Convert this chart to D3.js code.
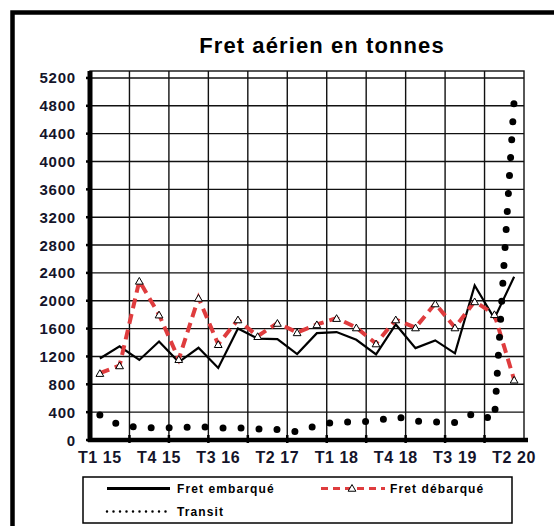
<!DOCTYPE html>
<html lang="fr">
<head>
    <meta charset="UTF-8">
    <title>Fret aérien en tonnes</title>
    <script src="https://cdnjs.cloudflare.com/ajax/libs/d3/7.8.5/d3.min.js"></script>
    <style>
        body {
            margin: 0;
            background: #fff;
        }
        svg {
            display: block;
            font-family: Arial, "Liberation Sans", sans-serif;
        }
    </style>
</head>
<body>
    <svg id="chart" width="554" height="526"></svg>

    <script>
        // Quarters T1 15 .. T2 20
        const quarters = [
            "T1 15", "T2 15", "T3 15", "T4 15",
            "T1 16", "T2 16", "T3 16", "T4 16",
            "T1 17", "T2 17", "T3 17", "T4 17",
            "T1 18", "T2 18", "T3 18", "T4 18",
            "T1 19", "T2 19", "T3 19", "T4 19",
            "T1 20", "T2 20"
        ];

        // Values (tonnes)
        const fretEmbarque = [1170, 1345, 1150, 1415, 1120, 1325, 1035, 1600, 1455, 1450, 1235,
                              1535, 1550, 1440, 1230, 1660, 1320, 1430, 1245, 2220, 1745, 2345];
        const fretDebarque = [960, 1070, 2285, 1800, 1160, 2040, 1375, 1730, 1490, 1680, 1545,
                              1660, 1750, 1615, 1385, 1730, 1615, 1960, 1615, 1990, 1805, 865];
        const transit = [360, 210, 180, 175, 175, 195, 170, 175, 160, 150, 120,
                         210, 260, 255, 275, 335, 270, 260, 250, 390, 290, 4880];

        const yTicks = [0, 400, 800, 1200, 1600, 2000, 2400, 2800, 3200, 3600, 4000, 4400, 4800, 5200];
        const xTickLabels = ["T1 15", "T4 15", "T3 16", "T2 17", "T1 18", "T4 18", "T3 19", "T2 20"];

        const svg = d3.select("#chart");

        // plot area
        const plotLeft = 90, plotRight = 524, plotTop = 71, plotBottom = 440;

        const x = d3.scaleBand().domain(quarters).range([plotLeft, plotRight]).padding(0);
        const y = d3.scaleLinear().domain([0, 5300]).range([plotBottom, plotTop]);
        const cx = d => x(d) + x.bandwidth() / 2;

        // outer frame (runs off the right / bottom edge)
        svg.append("rect")
            .attr("x", 12.5).attr("y", 12.5)
            .attr("width", 700).attr("height", 700)
            .attr("fill", "none")
            .attr("stroke", "#000")
            .attr("stroke-width", 4.5);

        // title
        svg.append("text")
            .attr("x", 322).attr("y", 52.5)
            .attr("text-anchor", "middle")
            .attr("font-size", 22)
            .attr("font-weight", "bold")
            .attr("letter-spacing", 1.1)
            .text("Fret aérien en tonnes");

        const grid = svg.append("g").attr("stroke", "#111").attr("stroke-width", 1.4);

        // plot border
        grid.append("rect")
            .attr("x", plotLeft).attr("y", plotTop)
            .attr("width", plotRight - plotLeft).attr("height", plotBottom - plotTop)
            .attr("fill", "none");

        // horizontal grid
        grid.selectAll("line.h")
            .data(yTicks)
            .enter().append("line")
            .attr("class", "h")
            .attr("x1", plotLeft).attr("x2", plotRight)
            .attr("y1", d => y(d)).attr("y2", d => y(d));

        // vertical grid every 2 quarters
        const vLines = quarters.filter((q, i) => i % 2 === 0 && i > 0);
        grid.selectAll("line.v")
            .data(vLines)
            .enter().append("line")
            .attr("class", "v")
            .attr("x1", d => x(d)).attr("x2", d => x(d))
            .attr("y1", plotTop).attr("y2", plotBottom);

        // y axis labels
        svg.append("g")
            .selectAll("text")
            .data(yTicks)
            .enter().append("text")
            .attr("x", 76)
            .attr("y", d => y(d) + 5.5)
            .attr("text-anchor", "end")
            .attr("font-size", 15)
            .attr("font-weight", "bold")
            .attr("letter-spacing", 0.8)
            .attr("fill", "#14142a")
            .text(d => d);

        // x axis labels
        svg.append("g")
            .selectAll("text")
            .data(xTickLabels)
            .enter().append("text")
            .attr("x", d => cx(d))
            .attr("y", 463)
            .attr("text-anchor", "middle")
            .attr("font-size", 16)
            .attr("font-weight", "bold")
            .attr("letter-spacing", 0.6)
            .attr("fill", "#14142a")
            .text(d => d);

        // series
        const lineGen = d3.line()
            .x((d, i) => cx(quarters[i]))
            .y(d => y(d));

        svg.append("path")
            .datum(fretEmbarque)
            .attr("d", lineGen)
            .attr("fill", "none")
            .attr("stroke", "#000")
            .attr("stroke-width", 2.2)
            .attr("stroke-linejoin", "miter");

        svg.append("path")
            .datum(fretDebarque)
            .attr("d", lineGen)
            .attr("fill", "none")
            .attr("stroke", "#df3c3e")
            .attr("stroke-width", 4)
            .attr("stroke-dasharray", "10,6");

        const tri = d3.symbol(d3.symbolTriangle, 26);
        svg.append("g")
            .selectAll("path")
            .data(fretDebarque)
            .enter().append("path")
            .attr("d", tri)
            .attr("transform", (d, i) => `translate(${cx(quarters[i])},${y(d) + 1})`)
            .attr("fill", "#fff")
            .attr("stroke", "#000")
            .attr("stroke-width", 1);

        // transit: thick round dotted line
        svg.append("path")
            .datum(transit)
            .attr("d", lineGen)
            .attr("fill", "none")
            .attr("stroke", "#000")
            .attr("stroke-width", 7)
            .attr("stroke-linecap", "round")
            .attr("stroke-dasharray", "0,18");

        // thick axes
        svg.append("line")
            .attr("x1", plotLeft).attr("x2", plotLeft)
            .attr("y1", plotTop).attr("y2", plotBottom + 2)
            .attr("stroke", "#000").attr("stroke-width", 5);
        svg.selectAll("line.ytick")
            .data(yTicks)
            .enter().append("line")
            .attr("class", "ytick")
            .attr("x1", plotLeft - 4).attr("x2", plotLeft)
            .attr("y1", d => y(d)).attr("y2", d => y(d))
            .attr("stroke", "#000").attr("stroke-width", 2.5);

        svg.append("line")
            .attr("x1", plotLeft - 2).attr("x2", plotRight + 4)
            .attr("y1", plotBottom).attr("y2", plotBottom)
            .attr("stroke", "#000").attr("stroke-width", 4.5);
        svg.selectAll("line.xtick")
            .data(vLines)
            .enter().append("line")
            .attr("class", "xtick")
            .attr("x1", d => x(d)).attr("x2", d => x(d))
            .attr("y1", plotBottom - 5).attr("y2", plotBottom + 3)
            .attr("stroke", "#000").attr("stroke-width", 2.5);

        // legend
        const legend = svg.append("g");
        legend.append("rect")
            .attr("x", 83).attr("y", 477)
            .attr("width", 429).attr("height", 46)
            .attr("fill", "#fff")
            .attr("stroke", "#000")
            .attr("stroke-width", 1.5);

        legend.append("line")
            .attr("x1", 107).attr("x2", 170)
            .attr("y1", 488.5).attr("y2", 488.5)
            .attr("stroke", "#000").attr("stroke-width", 3);

        legend.append("line")
            .attr("x1", 321).attr("x2", 385)
            .attr("y1", 488.5).attr("y2", 488.5)
            .attr("stroke", "#df3c3e").attr("stroke-width", 3)
            .attr("stroke-dasharray", "7,5");
        legend.append("path")
            .attr("d", tri)
            .attr("transform", "translate(352,489)")
            .attr("fill", "#fff")
            .attr("stroke", "#000")
            .attr("stroke-width", 1);

        legend.append("line")
            .attr("x1", 107).attr("x2", 170)
            .attr("y1", 511.5).attr("y2", 511.5)
            .attr("stroke", "#000").attr("stroke-width", 2.5)
            .attr("stroke-linecap", "round")
            .attr("stroke-dasharray", "0,6.5");

        const legendText = [
            { label: "Fret embarqué", x: 177, y: 492.5 },
            { label: "Fret débarqué", x: 390, y: 492.5 },
            { label: "Transit", x: 177, y: 515.5 }
        ];
        legend.selectAll("text")
            .data(legendText)
            .enter().append("text")
            .attr("x", d => d.x).attr("y", d => d.y)
            .attr("font-size", 12)
            .attr("font-weight", "bold")
            .attr("letter-spacing", 1.1)
            .text(d => d.label);
    </script>
</body>
</html>
